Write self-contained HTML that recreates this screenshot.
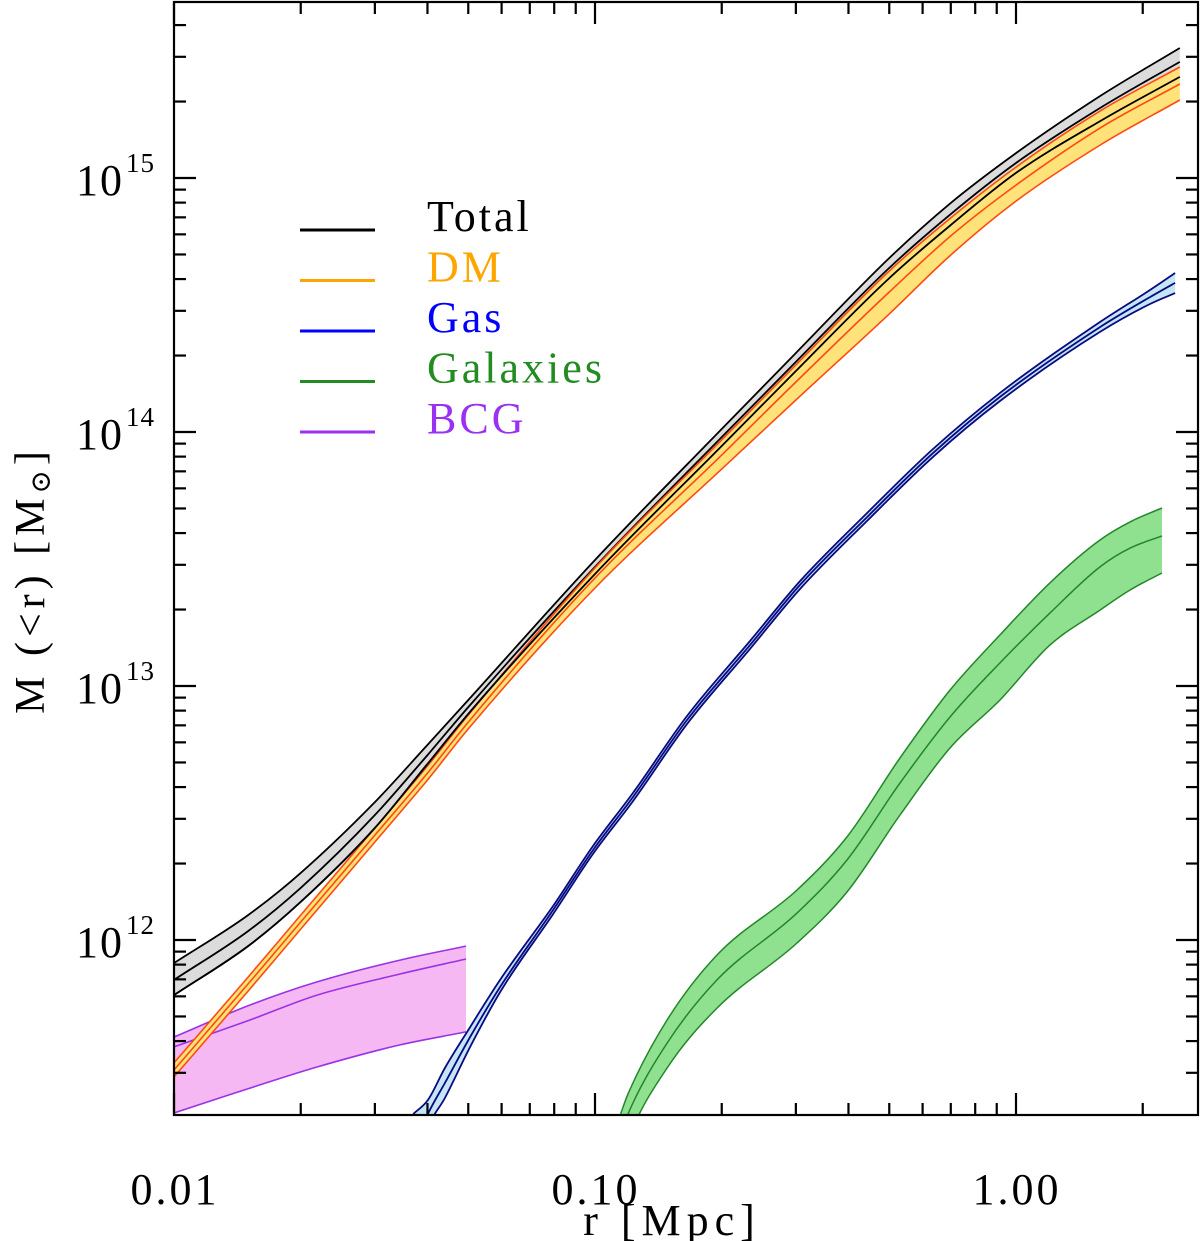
<!DOCTYPE html>
<html><head><meta charset="utf-8">
<style>
html,body{margin:0;padding:0;background:#fff;}
svg{display:block;}
text{font-family:"Liberation Serif","DejaVu Serif",serif;}
</style></head>
<body>
<svg id="chart" width="1200" height="1241" viewBox="0 0 1200 1241" xmlns="http://www.w3.org/2000/svg">
<defs><clipPath id="plotclip"><rect x="174" y="2" width="1024" height="1113"/></clipPath></defs>
<g id="bands" clip-path="url(#plotclip)"></g>
<g id="axes"></g>
<g id="legend"></g>
</svg>
<script>
// ---- data (r in Mpc, values are log10 M / Msun) ----
const totalR = [0.01, 0.015, 0.02, 0.03, 0.04, 0.05, 0.1, 0.2, 0.3, 0.5, 0.7, 1.0, 1.6, 2.45];
const totalHi = [11.909, 12.098, 12.264, 12.543, 12.768, 12.945, 13.496, 14.012, 14.311, 14.685, 14.902, 15.098, 15.327, 15.512];
const totalMid = [11.843, 12.035, 12.205, 12.492, 12.728, 12.917, 13.469, 13.980, 14.276, 14.646, 14.858, 15.059, 15.280, 15.457];
const totalLo = [11.783, 11.976, 12.150, 12.441, 12.693, 12.890, 13.441, 13.945, 14.240, 14.606, 14.815, 15.020, 15.228, 15.398];

const dmR = [0.01, 0.015, 0.02, 0.03, 0.04, 0.05, 0.1, 0.2, 0.3, 0.5, 0.7, 1.0, 1.6, 2.45];
const dmHi = [11.516, 11.854, 12.098, 12.441, 12.685, 12.886, 13.465, 13.969, 14.264, 14.634, 14.843, 15.043, 15.268, 15.437];
const dmMid = [11.488, 11.827, 12.071, 12.413, 12.657, 12.858, 13.425, 13.909, 14.197, 14.551, 14.772, 14.972, 15.201, 15.370];
const dmLo = [11.461, 11.799, 12.043, 12.386, 12.630, 12.831, 13.386, 13.854, 14.126, 14.465, 14.697, 14.909, 15.134, 15.307];

const gasR = [0.0370, 0.0401, 0.0440, 0.0505, 0.0595, 0.0795, 0.0989, 0.1231, 0.1654, 0.2335, 0.3069, 0.4428, 0.6352, 0.9162, 1.583, 2.081, 2.387];
const gasHi = [11.315, 11.370, 11.496, 11.657, 11.843, 12.134, 12.370, 12.579, 12.882, 13.177, 13.413, 13.681, 13.933, 14.154, 14.433, 14.559, 14.626];
const gasMid = [11.173, 11.315, 11.437, 11.618, 11.815, 12.118, 12.354, 12.563, 12.866, 13.161, 13.398, 13.665, 13.917, 14.138, 14.413, 14.531, 14.587];
const gasLo = [11.055, 11.260, 11.378, 11.579, 11.795, 12.102, 12.339, 12.547, 12.850, 13.146, 13.382, 13.650, 13.902, 14.122, 14.394, 14.504, 14.547];

const galR = [0.115, 0.1198, 0.1483, 0.1949, 0.3018, 0.3968, 0.5302, 0.6969, 0.9162, 1.204, 1.583, 1.866, 2.222];
const galHi = [11.315, 11.394, 11.685, 11.941, 12.197, 12.406, 12.717, 12.984, 13.201, 13.406, 13.575, 13.646, 13.701];
const galMid = [11.232, 11.315, 11.594, 11.843, 12.106, 12.315, 12.618, 12.878, 13.091, 13.287, 13.469, 13.543, 13.591];
const galLo = [11.114, 11.213, 11.496, 11.732, 11.988, 12.189, 12.492, 12.756, 12.945, 13.161, 13.299, 13.378, 13.445];

const bcgR = [0.01, 0.01515, 0.02186, 0.03442, 0.04939];
const bcgHi = [11.618, 11.744, 11.835, 11.921, 11.976];
const bcgMid = [11.579, 11.685, 11.783, 11.866, 11.925];
const bcgLo = [11.319, 11.417, 11.500, 11.587, 11.638];

const xTickVals = [0.01, 0.1, 1.0];
const xTickLabels = ["0.01", "0.10", "1.00"];
const yTickExps = [12, 13, 14, 15];
const legendNames = ["Total", "DM", "Gas", "Galaxies", "BCG"];

// ---- axis functions ----
const X0 = 174, X1 = 1198, Y0 = 2, Y1 = 1115;
const xDec = 421, yDec = 254;
function xs(r){ return X0 + xDec * (Math.log10(r) + 2); }
function ys(logM){ return 940 - yDec * (logM - 12); }

const NS = "http://www.w3.org/2000/svg";
function mk(tag, attrs, parent){
  const e = document.createElementNS(NS, tag);
  for (const k in attrs) e.setAttribute(k, attrs[k]);
  parent.appendChild(e); return e;
}
function pts(R, V){ return R.map((r,i)=>[xs(r), ys(V[i])]); }
function smooth(P, cont){
  const n = P.length;
  const dx=[], m=[], t=new Array(n);
  for (let i=0;i<n-1;i++){ dx.push(P[i+1][0]-P[i][0]); m.push((P[i+1][1]-P[i][1])/dx[i]); }
  t[0]=m[0]; t[n-1]=m[n-2];
  for (let i=1;i<n-1;i++){ t[i] = (m[i-1]*m[i] <= 0) ? 0 : (m[i-1]+m[i])/2; }
  for (let i=0;i<n-1;i++){
    if (m[i]===0){ t[i]=0; t[i+1]=0; continue; }
    const a=t[i]/m[i], b=t[i+1]/m[i], s=a*a+b*b;
    if (s>9){ const k=3/Math.sqrt(s); t[i]=k*a*m[i]; t[i+1]=k*b*m[i]; }
  }
  let d = (cont ? "L" : "M") + P[0][0].toFixed(1) + "," + P[0][1].toFixed(1);
  for (let i=0;i<n-1;i++){
    const h=dx[i]/3;
    d += " C"+(P[i][0]+h).toFixed(1)+","+(P[i][1]+t[i]*h).toFixed(1)+" "+(P[i+1][0]-h).toFixed(1)+","+(P[i+1][1]-t[i+1]*h).toFixed(1)+" "+P[i+1][0].toFixed(1)+","+P[i+1][1].toFixed(1);
  }
  return d;
}
function smoothRev(P){
  const fwd = smooth(P, false);
  const segs = fwd.split(" C").slice(1).map(s=>s.split(" ").map(p=>p.split(",").map(Number)));
  let d = "";
  for (let i=segs.length-1;i>=0;i--){
    const start = i===0 ? P[0] : segs[i-1][2];
    d += " C"+segs[i][1].join(",")+" "+segs[i][0].join(",")+" "+start.join(",");
  }
  return d;
}
function bandPath(R, hi, lo){
  const a = pts(R, hi), b = pts(R, lo);
  const last = b[b.length-1];
  return smooth(a,false) + " L" + last[0].toFixed(1)+","+last[1].toFixed(1) + smoothRev(b) + " Z";
}
const bands = document.getElementById("bands");
function drawBand(name, R, hi, mid, lo, fill, edge, medColor, w){
  const g = mk("g", {}, bands);
  
  
  const f = mk("path", {d: bandPath(R, hi, lo), fill: fill, stroke: "none"}, g);
  
  
  const h = mk("path", {d: smooth(pts(R, hi)), fill: "none", stroke: edge, "stroke-width": w}, g);
  
  
  const l = mk("path", {d: smooth(pts(R, lo)), fill: "none", stroke: edge, "stroke-width": w}, g);
  
  
  const m = mk("path", {d: smooth(pts(R, mid)), fill: "none", stroke: medColor, "stroke-width": w}, g);
  
  
}
drawBand("bcg", bcgR, bcgHi, bcgMid, bcgLo, "#f6b8f2", "#9a32e6", "#9a32e6", 1.6);
drawBand("galaxies", galR, galHi, galMid, galLo, "#8fe08f", "#23862a", "#23862a", 1.5);
drawBand("gas", gasR, gasHi, gasMid, gasLo, "#c4e6f6", "#0a0a80", "#0a0a80", 1.8);
drawBand("total", totalR, totalHi, totalMid, totalLo, "#dcdcdc", "#000", "#000", 1.8);
drawBand("dm", dmR, dmHi, dmMid, dmLo, "#ffe27a", "#ff4a10", "#ff4a10", 1.6);
(function(){
  const l = mk("path", {d: smooth(pts(totalR, totalLo)), fill:"none", stroke:"#000", "stroke-width":1.8}, bands);
  
  
})();

// ---- axes ----
const axes = document.getElementById("axes");
const frame = mk("rect", {x: X0, y: Y0, width: X1-X0, height: Y1-Y0, fill:"none", stroke:"#000", "stroke-width":2.2}, axes);


function line(x1,y1,x2,y2,name){
  const e = mk("line", {x1:x1,y1:y1,x2:x2,y2:y2,stroke:"#000","stroke-width":2.2}, axes);
  
  
}
for (let dec=-2; dec<=0; dec++){
  for (let m=1; m<=9; m++){
    const r = m*Math.pow(10,dec);
    const x = xs(r);
    if (x > X1) continue;
    const len = m===1 ? 22 : 12;
    line(x, Y1, x, Y1-len, 'x-tick');
    line(x, Y0, x, Y0+len, 'x-tick-top');
  }
}
xTickVals.forEach((v,i)=>{
  const t = mk("text", {x: xs(v)+1, y: 1204, "font-size": 44, "text-anchor":"middle", "letter-spacing": "3", fill:"#000"}, axes);
  t.textContent = xTickLabels[i];
  
  
});
const xt = mk("text", {x: 672, y: 1235, "font-size": 44, "text-anchor":"middle", "letter-spacing": "6", fill:"#000"}, axes);
xt.textContent = "r [Mpc]";


for (let e=11; e<=15; e++){
  for (let m=1; m<=9; m++){
    const lv = e + Math.log10(m);
    const y = ys(lv);
    if (y < Y0 || y > Y1) continue;
    const len = m===1 ? 22 : 12;
    line(X0, y, X0+len, y, 'y-tick');
    line(X1, y, X1-len, y, 'y-tick-right');
  }
}
yTickExps.forEach(e=>{
  const y = ys(e);
  const t = mk("text", {x: 124, y: y+17, "font-size": 44, "text-anchor":"end", "letter-spacing": "2", fill:"#000"}, axes);
  t.textContent = "10";
  
  
  const s = mk("text", {x: 126, y: y-6, "font-size": 27, "text-anchor":"start", "letter-spacing": "1", fill:"#000"}, axes);
  s.textContent = String(e);
  
  
});
const yt = mk("text", {x: 0, y: 0, "font-size": 42, "text-anchor":"middle", "letter-spacing": "5", fill:"#000", transform:"translate(44,580) rotate(-90)"}, axes);


const t1 = mk("tspan", {}, yt); t1.textContent = "M (<r) [M";
const t2 = mk("tspan", {"font-size": 28, dy: 6}, yt); t2.textContent = "\u2299";
const t3 = mk("tspan", {dy: -6}, yt); t3.textContent = "]";

// ---- legend ----
const legend = document.getElementById("legend");
const legendColors = ["#000000", "#ffa500", "#0000ff", "#228b22", "#9b30f0"];
legendNames.forEach((n,i)=>{
  const y = 230 + i*50.5;
  const l = mk("line", {x1:300, y1:y, x2:375, y2:y, stroke: legendColors[i], "stroke-width": 3}, legend);
  
  
  const t = mk("text", {x: 427, y: y+1, "font-size": 44, fill: legendColors[i], "letter-spacing": "3"}, legend);
  t.textContent = n;
  
  
});
</script>
</body></html>
